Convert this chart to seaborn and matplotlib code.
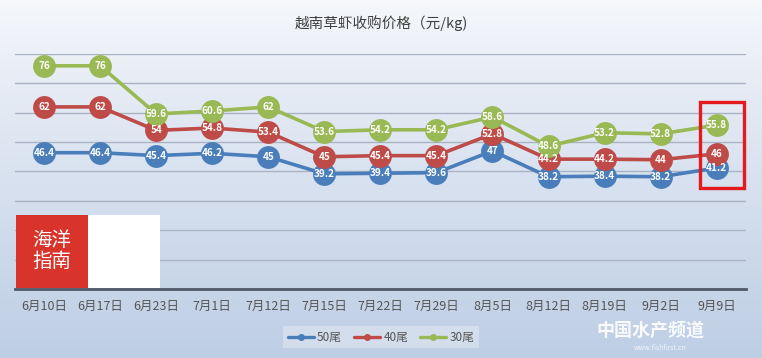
import numpy as np
import pandas as pd
import matplotlib
matplotlib.use("Agg")
import matplotlib.pyplot as plt
from matplotlib.patches import Rectangle
from matplotlib.lines import Line2D
import seaborn as sns

# === DATI ===
dates = ["6月10日", "6月17日", "6月23日", "7月1日", "7月12日", "7月15日", "7月22日",
         "7月29日", "8月5日", "8月12日", "8月19日", "9月2日", "9月9日"]
price_50 = [46.4, 46.4, 45.4, 46.2, 45, 39.2, 39.4, 39.6, 47, 38.2, 38.4, 38.2, 41.2]
price_40 = [62, 62, 54, 54.8, 53.4, 45, 45.4, 45.4, 52.8, 44.2, 44.2, 44, 46]
price_30 = [76, 76, 59.6, 60.6, 62, 53.6, 54.2, 54.2, 58.6, 48.6, 53.2, 52.8, 55.8]
series_names = ["50尾", "40尾", "30尾"]

colors = {"50尾": "#4a7ebb", "40尾": "#be4b48", "30尾": "#98b954"}

df = pd.DataFrame({"日期": dates, "50尾": price_50, "40尾": price_40, "30尾": price_30})
long_df = df.melt(id_vars="日期", var_name="规格", value_name="价格")

sns.set_theme(style="white")
plt.rcParams['font.family'] = ['Noto Sans CJK SC', 'DejaVu Sans']

fig = plt.figure(figsize=(7.62, 3.58), dpi=100)

# sfondo sfumato
bg = fig.add_axes([0, 0, 1, 1], zorder=-10)
grad = np.linspace(0, 1, 256).reshape(-1, 1)
top_c = np.array([0.965, 0.972, 0.985])
bot_c = np.array([0.745, 0.808, 0.898])
img = top_c + (bot_c - top_c) * grad[:, :, None] ** 0.9
bg.imshow(img, aspect="auto", extent=[0, 1, 0, 1], origin="upper")
bg.set_xlim(0, 1)
bg.set_ylim(0, 1)
bg.axis("off")

ax = fig.add_axes([0.0197, 0.193, 0.959, 0.656])
ax.set_facecolor("none")

sns.pointplot(data=long_df, x="日期", y="价格", hue="规格", order=dates,
              hue_order=series_names, palette=colors, markers="o",
              linestyles="-", dodge=False, markersize=14.5, linewidth=2.6,
              errorbar=None, legend=False, ax=ax)

# etichette dei valori
for name in series_names:
    for i, v in enumerate(df[name]):
        ax.text(i, v, f"{v:g}", ha="center", va="center", color="white",
                fontsize=7.2, fontweight="bold", zorder=10)

ax.set_ylim(0, 80)
ax.set_xlim(-0.52, len(dates) - 0.48)
ax.set_yticks(np.arange(0, 81, 10))
ax.set_yticklabels([])
ax.tick_params(axis="y", length=0)
ax.tick_params(axis="x", length=0, labelsize=9, labelcolor="#555555", pad=8)
ax.yaxis.grid(True, color="#a9b3c4", linewidth=1.0)
ax.set_axisbelow(True)
for s in ["top", "right", "left"]:
    ax.spines[s].set_visible(False)
ax.spines["bottom"].set_color("#4d5868")
ax.spines["bottom"].set_linewidth(2)
ax.set_xlabel("")
ax.set_ylabel("")

# riquadro rosso sull'ultimo punto
ax.add_patch(Rectangle((11.7, 34.4), 0.78, 29.2, fill=False, edgecolor="#e51a1f",
                       linewidth=2.4, clip_on=False, zorder=12))

fig.text(0.5, 0.935, "越南草虾收购价格（元/kg)", ha="center", va="center",
         fontsize=10.5, color="#404040", fontweight="medium")

# legenda
handles = [Line2D([0], [0], color=colors[n], marker="o", markersize=4, linewidth=2.4)
           for n in series_names]
leg = fig.legend(handles, series_names, loc="center", bbox_to_anchor=(0.5, 0.058),
                 ncol=3, fontsize=8.5, frameon=True, handlelength=2.2,
                 handletextpad=0.3, columnspacing=1.0, borderpad=0.4, fancybox=False)
leg.get_frame().set_facecolor("#d8e1ee")
leg.get_frame().set_edgecolor("none")
for t in leg.get_texts():
    t.set_color("#555555")

# logo
fig.patches.append(Rectangle((16 / 762, 1 - 288 / 358), 72 / 762, 73 / 358,
                             transform=fig.transFigure, facecolor="#d9342b",
                             edgecolor="none", zorder=5))
fig.patches.append(Rectangle((88 / 762, 1 - 288 / 358), 72 / 762, 73 / 358,
                             transform=fig.transFigure, facecolor="white",
                             edgecolor="none", zorder=5))
fig.text(52 / 762, 1 - 251 / 358, "海洋\n指南", ha="center", va="center",
         fontsize=14, color="white", linespacing=1.05, zorder=6)

# watermark
fig.text(650 / 762, 1 - 330 / 358, "中国水产频道", ha="center", va="center",
         fontsize=13, color="white", fontweight="bold", alpha=0.9)
fig.text(660 / 762, 1 - 348 / 358, "www.fishfirst.cn", ha="center", va="center",
         fontsize=5, color="white", alpha=0.8)

fig.savefig("out.png", dpi=100)
